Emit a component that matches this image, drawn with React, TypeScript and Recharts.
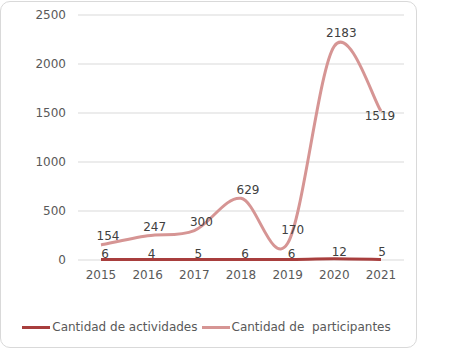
import { CartesianGrid, LabelList, Legend, Line, LineChart, XAxis, YAxis } from "recharts";

const years = ["2015", "2016", "2017", "2018", "2019", "2020", "2021"];
const actividades = [6, 4, 5, 6, 6, 12, 5];
const participantes = [154, 247, 300, 629, 170, 2183, 1519];
const yTicks = [0, 500, 1000, 1500, 2000, 2500];

const DARK = "#A83E3D";
const PINK = "#D69594";

const data = years.map((year, i) => ({
  year,
  actividades: actividades[i],
  participantes: participantes[i],
}));

// Excel-like smoothed line (Catmull-Rom as bezier)
function excelCurve(context: any) {
  let pts: [number, number][] = [];
  return {
    areaStart() {},
    areaEnd() {},
    lineStart() {
      pts = [];
    },
    point(x: number, y: number) {
      pts.push([+x, +y]);
    },
    lineEnd() {
      if (!pts.length) return;
      context.moveTo(pts[0][0], pts[0][1]);
      for (let i = 0; i < pts.length - 1; i++) {
        const p0 = pts[i - 1] || pts[i];
        const p1 = pts[i];
        const p2 = pts[i + 1];
        const p3 = pts[i + 2] || pts[i + 1];
        context.bezierCurveTo(
          p1[0] + (p2[0] - p0[0]) / 6,
          p1[1] + (p2[1] - p0[1]) / 6,
          p2[0] - (p3[0] - p1[0]) / 6,
          p2[1] - (p3[1] - p1[1]) / 6,
          p2[0],
          p2[1]
        );
      }
    },
  };
}

// label nudges, per point index
const pinkOffsets: Record<number, [number, number]> = { 4: [5, -14], 5: [7, -13], 6: [-1, 5] };

const makeLabel = (def: [number, number], overrides: Record<number, [number, number]>) =>
  (props: any) => {
    const { x, y, value, index } = props;
    const [dx, dy] = overrides[index] || def;
    return (
      <text x={x + dx} y={y + dy} dy="0.35em" textAnchor="middle" fontSize={12} fill="#404040">
        {value}
      </text>
    );
  };

const legendItems = [
  { name: "Cantidad de actividades", color: DARK },
  { name: "Cantidad de  participantes", color: PINK },
];

function ChartLegend() {
  return (
    <div style={{ display: "flex", justifyContent: "center", alignItems: "center", fontSize: 12, color: "#595959" }}>
      {legendItems.map((it) => (
        <span key={it.name} style={{ display: "flex", alignItems: "center", marginRight: 4 }}>
          <span style={{ display: "inline-block", width: 28, height: 3, background: it.color, marginRight: 2 }} />
          <span style={{ whiteSpace: "pre" }}>{it.name}</span>
        </span>
      ))}
    </div>
  );
}

export default function App() {
  return (
    <div
      style={{
        position: "absolute",
        left: 0,
        top: 1,
        width: 415,
        height: 345,
        border: "1px solid #d9d9d9",
        borderRadius: 10,
        background: "#fff",
        fontFamily: "'DejaVu Sans', Verdana, sans-serif",
      }}
    >
      <LineChart width={415} height={345} data={data} margin={{ top: 13, right: 12, bottom: 57, left: 0 }}>
        <CartesianGrid stroke="#d9d9d9" vertical={false} />
        <XAxis
          dataKey="year"
          axisLine={false}
          tickLine={false}
          tickMargin={4}
          padding={{ left: 23, right: 23 }}
          tick={{ fill: "#595959", fontSize: 12 }}
          interval={0}
        />
        <YAxis
          width={77}
          domain={[0, 2500]}
          ticks={yTicks}
          axisLine={false}
          tickLine={false}
          tickMargin={6}
          tick={{ fill: "#595959", fontSize: 12 }}
        />
        <Legend
          layout="horizontal"
          verticalAlign="middle"
          align="center"
          wrapperStyle={{ top: 318, left: 0, width: 415 }}
          content={() => <ChartLegend />}
        />
        <Line
          dataKey="participantes"
          type={excelCurve as any}
          stroke={PINK}
          strokeWidth={3}
          dot={false}
          activeDot={false}
          isAnimationActive={false}
        >
          <LabelList dataKey="participantes" content={makeLabel([7, -9], pinkOffsets)} />
        </Line>
        <Line
          dataKey="actividades"
          type={excelCurve as any}
          stroke={DARK}
          strokeWidth={3}
          dot={false}
          activeDot={false}
          isAnimationActive={false}
        >
          <LabelList dataKey="actividades" content={makeLabel([4, -6], { 5: [5, -7], 6: [1, -8] })} />
        </Line>
      </LineChart>
    </div>
  );
}
